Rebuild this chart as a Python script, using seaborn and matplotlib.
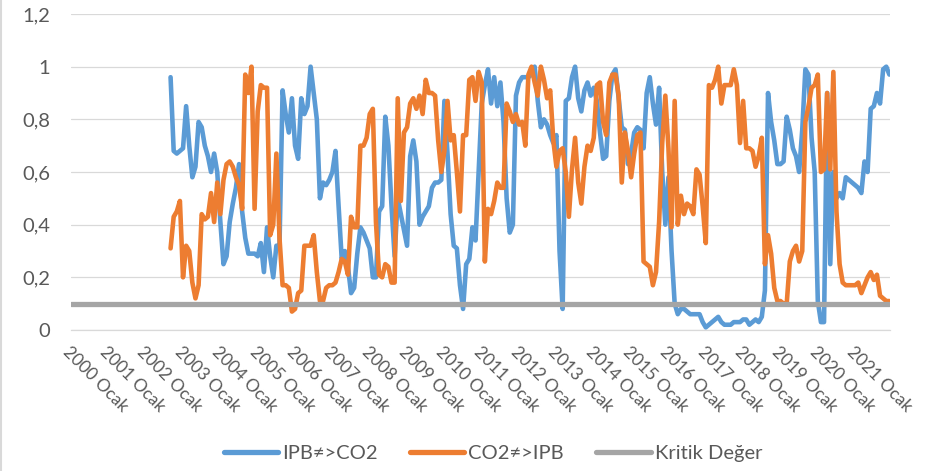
import numpy as np
import pandas as pd
import matplotlib
matplotlib.use("Agg")
import matplotlib.pyplot as plt
from matplotlib.lines import Line2D
import seaborn as sns

# ---------------- data ----------------
# monthly values, first value = 2002 Eylül (month index 32 counted from 2000 Ocak = 0)
start_month = 32
year_labels = [f"{y} Ocak" for y in range(2000, 2022)]

ipb_co2 = [
    0.96, 0.68, 0.67, 0.68,                                              # 2002 (Sep-Dec)
    0.69, 0.85, 0.70, 0.58, 0.62, 0.79, 0.77, 0.70, 0.66, 0.60, 0.67, 0.60,  # 2003
    0.41, 0.25, 0.28, 0.41, 0.48, 0.54, 0.63, 0.45, 0.35, 0.29, 0.29, 0.29,  # 2004
    0.28, 0.33, 0.22, 0.39, 0.28, 0.20, 0.32, 0.32, 0.91, 0.82, 0.75, 0.88,  # 2005
    0.70, 0.65, 0.88, 0.82, 0.85, 1.00, 0.90, 0.80, 0.50, 0.56, 0.55, 0.57,  # 2006
    0.60, 0.68, 0.47, 0.27, 0.30, 0.24, 0.14, 0.16, 0.29, 0.39, 0.37, 0.34,  # 2007
    0.31, 0.20, 0.20, 0.45, 0.47, 0.81, 0.70, 0.47, 0.28, 0.50, 0.44, 0.38,  # 2008
    0.32, 0.66, 0.72, 0.64, 0.40, 0.43, 0.45, 0.47, 0.54, 0.56, 0.56, 0.57,  # 2009
    0.87, 0.67, 0.44, 0.32, 0.31, 0.17, 0.08, 0.25, 0.27, 0.39, 0.34, 0.60,  # 2010
    0.86, 0.93, 0.99, 0.86, 0.96, 0.85, 0.94, 0.79, 0.50, 0.37, 0.40, 0.89,  # 2011
    0.94, 0.96, 0.96, 0.96, 0.97, 1.00, 0.87, 0.77, 0.80, 0.78, 0.74, 0.71,  # 2012
    0.74, 0.30, 0.08, 0.87, 0.88, 0.96, 1.00, 0.88, 0.83, 0.91, 0.94, 0.89,  # 2013
    0.92, 0.87, 0.75, 0.65, 0.66, 0.87, 0.97, 0.99, 0.88, 0.77, 0.76, 0.63,  # 2014
    0.67, 0.75, 0.77, 0.76, 0.69, 0.90, 0.96, 0.86, 0.78, 0.92, 0.60, 0.40,  # 2015
    0.58, 0.30, 0.10, 0.06, 0.08, 0.08, 0.07, 0.06, 0.06, 0.06, 0.06, 0.03,  # 2016
    0.01, 0.02, 0.03, 0.04, 0.05, 0.03, 0.02, 0.02, 0.02, 0.03, 0.03, 0.03,  # 2017
    0.04, 0.04, 0.02, 0.03, 0.04, 0.03, 0.05, 0.15, 0.90, 0.79, 0.72, 0.63,  # 2018
    0.63, 0.64, 0.81, 0.76, 0.69, 0.66, 0.60, 0.76, 0.99, 0.97, 0.73, 0.60,  # 2019
    0.11, 0.03, 0.03, 0.90, 0.25, 0.60, 0.50, 0.52, 0.50, 0.58, 0.57, 0.56,  # 2020
    0.55, 0.54, 0.52, 0.64, 0.60, 0.84, 0.85, 0.90, 0.86, 0.99, 1.00, 0.97,  # 2021
]

co2_ipb = [
    0.31, 0.43, 0.45, 0.49,                                              # 2002 (Sep-Dec)
    0.20, 0.32, 0.30, 0.18, 0.12, 0.17, 0.44, 0.42, 0.43, 0.52, 0.41, 0.56,  # 2003
    0.44, 0.57, 0.63, 0.64, 0.62, 0.58, 0.55, 0.46, 0.97, 0.90, 1.00, 0.46,  # 2004
    0.83, 0.93, 0.92, 0.92, 0.36, 0.40, 0.67, 0.35, 0.17, 0.17, 0.16, 0.07,  # 2005
    0.08, 0.14, 0.15, 0.32, 0.32, 0.32, 0.36, 0.22, 0.11, 0.11, 0.16, 0.17,  # 2006
    0.17, 0.18, 0.22, 0.27, 0.26, 0.21, 0.43, 0.39, 0.39, 0.70, 0.70, 0.73,  # 2007
    0.82, 0.84, 0.41, 0.21, 0.20, 0.25, 0.24, 0.18, 0.18, 0.88, 0.49, 0.75,  # 2008
    0.77, 0.86, 0.88, 0.84, 0.89, 0.82, 0.95, 0.90, 0.90, 0.89, 0.72, 0.60,  # 2009
    0.68, 0.87, 0.72, 0.74, 0.60, 0.45, 0.74, 0.74, 0.95, 0.96, 0.87, 0.98,  # 2010
    0.94, 0.26, 0.46, 0.44, 0.49, 0.56, 0.54, 0.54, 0.86, 0.83, 0.79, 0.82,  # 2011
    0.78, 0.79, 0.70, 0.97, 1.00, 0.94, 0.89, 1.00, 0.95, 0.88, 0.91, 0.72,  # 2012
    0.62, 0.68, 0.69, 0.60, 0.43, 0.61, 0.73, 0.56, 0.48, 0.62, 0.70, 0.68,  # 2013
    0.73, 0.93, 0.94, 0.79, 0.74, 0.94, 0.97, 0.97, 0.89, 0.56, 0.75, 0.68,  # 2014
    0.58, 0.67, 0.74, 0.75, 0.26, 0.25, 0.24, 0.17, 0.22, 0.41, 0.71, 0.89,  # 2015
    0.69, 0.39, 0.87, 0.40, 0.51, 0.44, 0.48, 0.47, 0.44, 0.61, 0.59, 0.47,  # 2016
    0.33, 0.93, 0.92, 0.95, 1.00, 0.86, 0.93, 0.93, 0.93, 0.99, 0.93, 0.71,  # 2017
    0.87, 0.69, 0.69, 0.68, 0.62, 0.66, 0.73, 0.25, 0.36, 0.29, 0.16, 0.11,  # 2018
    0.11, 0.10, 0.10, 0.26, 0.30, 0.32, 0.26, 0.30, 0.79, 0.85, 0.92, 0.93,  # 2019
    0.97, 0.60, 0.61, 0.90, 0.61, 0.98, 0.45, 0.25, 0.18, 0.17, 0.17, 0.17,  # 2020
    0.17, 0.18, 0.14, 0.17, 0.20, 0.22, 0.19, 0.21, 0.13, 0.12, 0.11, 0.11,  # 2021
]

kritik_months = [0, 263]
kritik_values = [0.1, 0.1]

series_names = ["IPB≠>CO2", "CO2≠>IPB", "Kritik Değer"]
series_colors = ["#5B9BD5", "#ED7D31", "#A5A5A5"]
y_ticks = [0, 0.2, 0.4, 0.6, 0.8, 1.0, 1.2]
y_tick_labels = ["0", "0,2", "0,4", "0,6", "0,8", "1", "1,2"]

# ---------------- frames ----------------
df_ipb = pd.DataFrame({"ay": start_month + np.arange(len(ipb_co2)), "p": ipb_co2})
df_co2 = pd.DataFrame({"ay": start_month + np.arange(len(co2_ipb)), "p": co2_ipb})
df_kr = pd.DataFrame({"ay": kritik_months, "p": kritik_values})

# ---------------- plot ----------------
sns.set_theme(style="white")
plt.rcParams["font.family"] = ["Lato", "DejaVu Sans"]

W, H = 929, 471
fig = plt.figure(figsize=(W / 100, H / 100), dpi=100)
ax = fig.add_axes([71 / W, (H - 330) / H, 819 / W, 316 / H])

sns.lineplot(data=df_ipb, x="ay", y="p", ax=ax, color=series_colors[0],
             linewidth=3.3, zorder=3)
sns.lineplot(data=df_co2, x="ay", y="p", ax=ax, color=series_colors[1],
             linewidth=3.3, zorder=4)
sns.lineplot(data=df_kr, x="ay", y="p", ax=ax, color=series_colors[2],
             linewidth=3.8, zorder=5)

ax.set_xlim(0, 263.2)
ax.set_ylim(0, 1.2)
ax.set_xlabel("")
ax.set_ylabel("")

ax.set_yticks(y_ticks)
ax.set_yticklabels(y_tick_labels)
ax.yaxis.grid(True, color="#d9d9d9", linewidth=0.9)
ax.xaxis.grid(False)
ax.set_axisbelow(True)

tick_pos = np.arange(0, 12 * len(year_labels), 12)
ax.set_xticks(tick_pos)
ax.set_xticklabels(year_labels, rotation=-45, ha="left", va="top",
                   rotation_mode="anchor")

ax.tick_params(axis="y", length=0, pad=15, labelsize=14.5, labelcolor="#595959")
ax.tick_params(axis="x", length=4, width=0.9, color="#d9d9d9", direction="out",
               pad=6, labelsize=12.5, labelcolor="#595959")

for side in ["left", "right", "top"]:
    ax.spines[side].set_visible(False)
ax.spines["bottom"].set_color("#d9d9d9")
ax.spines["bottom"].set_linewidth(0.9)

handles = [Line2D([], [], color=c, linewidth=3.8) for c in series_colors]
fig.legend(handles, series_names, loc="center",
           bbox_to_anchor=(493 / W, (H - 453) / H), ncol=3, frameon=False,
           fontsize=14.5, handlelength=2.7, handletextpad=0.2, columnspacing=1.6,
           labelcolor="#595959")

# chart-area border on the left
fig.add_artist(Line2D([0.8 / W, 0.8 / W], [0, 1], transform=fig.transFigure,
                      color="#d9d9d9", linewidth=1.5))

fig.savefig("out.png", dpi=100)
